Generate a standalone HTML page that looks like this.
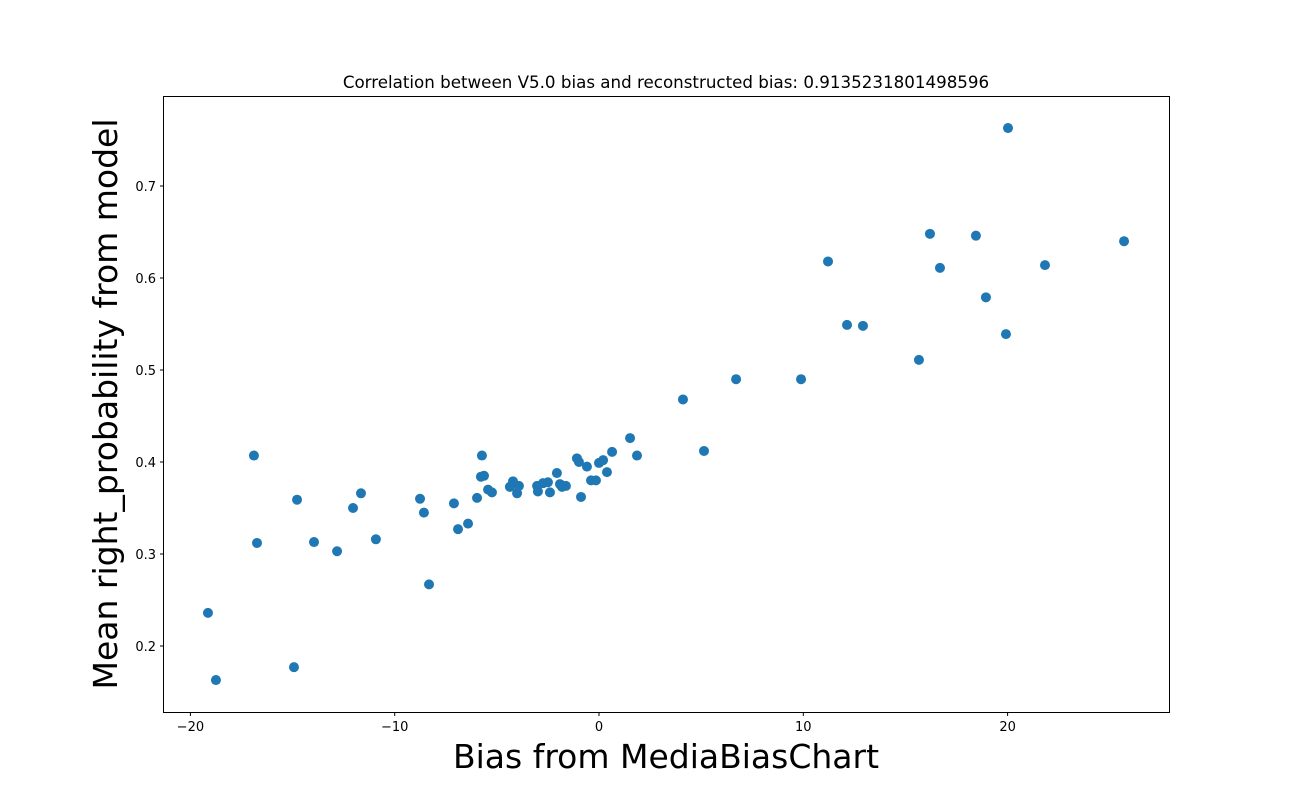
<!DOCTYPE html>
<html><head><meta charset="utf-8"><style>
html,body{margin:0;padding:0;background:#fff;}
svg{display:block;font-family:"DejaVu Sans","Liberation Sans",sans-serif;}
</style></head><body>
<svg id="chart" width="1300" height="800">
<rect x="163.5" y="96.5" width="1006" height="616" fill="none" stroke="#000" stroke-width="1"/>
<text x="666" y="88" text-anchor="middle" font-size="16.7">Correlation between V5.0 bias and reconstructed bias: 0.9135231801498596</text>
<text x="666" y="768" text-anchor="middle" font-size="33">Bias from MediaBiasChart</text>
<text transform="translate(117,404) rotate(-90)" text-anchor="middle" font-size="33">Mean right_probability from model</text>
<g id="ticks"></g><g id="points"></g>
</svg>
<script>
const xVals=[-19.14,-18.75,-16.89,-16.74,-14.93,-14.78,-13.95,-12.82,-12.04,-11.65,-10.92,-8.76,-8.57,-8.32,-7.10,-6.90,-6.41,-5.97,-5.78,-5.73,-5.63,-5.43,-5.24,-4.36,-4.21,-4.01,-3.92,-3.03,-2.99,-2.74,-2.50,-2.40,-2.06,-1.91,-1.81,-1.62,-1.08,-0.98,-0.88,-0.59,-0.39,-0.15,0,0.20,0.39,0.64,1.52,1.86,4.11,5.14,6.71,9.89,11.21,12.14,12.92,15.66,16.20,16.69,18.45,18.94,19.92,20.02,21.83,25.70];
const yVals=[0.236,0.163,0.407,0.312,0.177,0.359,0.313,0.303,0.350,0.366,0.316,0.360,0.345,0.267,0.355,0.327,0.333,0.361,0.384,0.407,0.385,0.370,0.367,0.373,0.379,0.366,0.374,0.374,0.368,0.377,0.378,0.367,0.388,0.376,0.373,0.374,0.404,0.400,0.362,0.395,0.380,0.380,0.399,0.402,0.389,0.411,0.426,0.407,0.468,0.412,0.490,0.490,0.618,0.549,0.548,0.511,0.648,0.611,0.646,0.579,0.539,0.763,0.614,0.640];
const xTicks=[-20,-10,0,10,20];
const yTicks=[0.2,0.3,0.4,0.5,0.6,0.7];
const NS='http://www.w3.org/2000/svg';
function sx(v){return 599+v*20.43;}
function sy(v){return 462-(v-0.4)*920;}
const tg=document.getElementById('ticks');
xTicks.forEach(t=>{
  const l=document.createElementNS(NS,'line');
  l.setAttribute('x1',sx(t));l.setAttribute('x2',sx(t));l.setAttribute('y1',712.5);l.setAttribute('y2',716);l.setAttribute('stroke','#000');
  
  
  tg.appendChild(l);
  const tx=document.createElementNS(NS,'text');
  tx.setAttribute('x',sx(t));tx.setAttribute('y',731);tx.setAttribute('text-anchor','middle');tx.setAttribute('font-size','13');
  tx.textContent=t<0?'\u2212'+Math.abs(t):String(t);
  
  
  tg.appendChild(tx);
});
yTicks.forEach(t=>{
  const l=document.createElementNS(NS,'line');
  l.setAttribute('x1',160);l.setAttribute('x2',163.5);l.setAttribute('y1',sy(t));l.setAttribute('y2',sy(t));l.setAttribute('stroke','#000');
  
  
  tg.appendChild(l);
  const tx=document.createElementNS(NS,'text');
  tx.setAttribute('x',156);tx.setAttribute('y',sy(t)+5);tx.setAttribute('text-anchor','end');tx.setAttribute('font-size','13');
  tx.textContent=t.toFixed(1);
  
  
  tg.appendChild(tx);
});
const pg=document.getElementById('points');
xVals.forEach((x,i)=>{
  const c=document.createElementNS(NS,'circle');
  c.setAttribute('cx',sx(x));c.setAttribute('cy',sy(yVals[i]));c.setAttribute('r',5);c.setAttribute('fill','#1f77b4');
  
  
  pg.appendChild(c);
});
</script>
</body></html>
